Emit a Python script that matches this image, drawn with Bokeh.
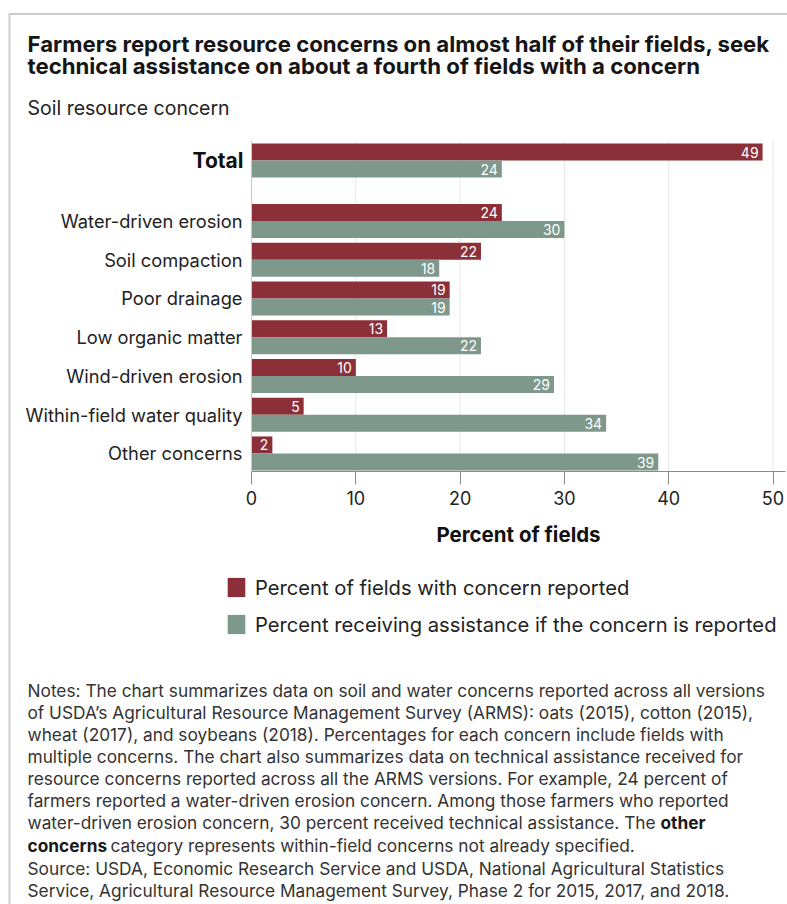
from bokeh.plotting import figure
from bokeh.models import Range1d, FixedTicker, Label, Legend, LegendItem, BoxAnnotation
from bokeh.core.properties import value
from bokeh.embed import file_html
from bokeh.resources import INLINE

# ---- data -------------------------------------------------------------
categories = [
    "Total",
    "Water-driven erosion",
    "Soil compaction",
    "Poor drainage",
    "Low organic matter",
    "Wind-driven erosion",
    "Within-field water quality",
    "Other concerns",
]
reported = [49, 24, 22, 19, 13, 10, 5, 2]      # percent of fields with concern reported
assisted = [24, 30, 18, 19, 22, 29, 34, 39]     # percent receiving assistance if reported
x_ticks = [0, 10, 20, 30, 40, 50]

title_lines = [
    "Farmers report resource concerns on almost half of their fields, seek",
    "technical assistance on about a fourth of fields with a concern",
]
subtitle = "Soil resource concern"
legend_labels = [
    "Percent of fields with concern reported",
    "Percent receiving assistance if the concern is reported",
]
notes_lines = [
    "Notes: The chart summarizes data on soil and water concerns reported across all versions",
    "of USDA\u2019s Agricultural Resource Management Survey (ARMS): oats (2015), cotton (2015),",
    "wheat (2017), and soybeans (2018). Percentages for each concern include fields with",
    "multiple concerns. The chart also summarizes data on technical assistance received for",
    "resource concerns reported across all the ARMS versions. For example, 24 percent of",
    "farmers reported a water-driven erosion concern. Among those farmers who reported",
    "water-driven erosion concern, 30 percent received technical assistance. The",
]
notes_bold_1 = "other"
notes_bold_2 = "concerns"
notes_tail = "category represents within-field concerns not already specified."
source_lines = [
    "Source: USDA, Economic Research Service and USDA, National Agricultural Statistics",
    "Service, Agricultural Resource Management Survey, Phase 2 for 2015, 2017, and 2018.",
]

# ---- layout constants ------------------------------------------------
W, H = 787, 904
PL, PR, PT, PB = 251, 785, 140, 471      # plotting area on the canvas (px)
FONT = "Inter"
RED = "#8b3038"
GREEN = "#7e988c"
TXT = "#222222"

n = len(categories)
rows = [float(n - 1 - i) for i in range(n)]
rows[0] += 0.56                           # extra gap below the Total row
bar_h = 0.44
y_red = [r + bar_h / 2 for r in rows]
y_green = [r - bar_h / 2 for r in rows]

px_x = 10.43     # px per percent
px_y = 38.75     # px per row
y_bot = -0.465   # data y at the x-axis line
y_top = y_bot + (PB - PT) / px_y
x_end = (PR - PL) / px_x

# the frame fills the whole canvas; axes are pinned inside it
p = figure(
    width=W, height=H,
    x_range=Range1d(-PL / px_x, (W - PL) / px_x),
    y_range=Range1d(y_bot - (H - PB) / px_y, y_bot + PB / px_y),
    min_border=0, min_border_left=0, min_border_right=0,
    min_border_top=0, min_border_bottom=0,
    output_backend="svg", toolbar_location=None,
    background_fill_color="white", border_fill_color="white",
)
p.outline_line_color = None
p.xgrid.grid_line_color = None
p.ygrid.grid_line_color = None

# vertical grid lines at the x ticks, limited to the plotting area
p.segment(x0=x_ticks, y0=[y_bot] * len(x_ticks), x1=x_ticks, y1=[y_top] * len(x_ticks),
          line_color="#e6e6e6", line_width=1)

r_rep = p.hbar(y=y_red, left=0, right=reported, height=bar_h,
               fill_color=RED, line_color=None)
r_ass = p.hbar(y=y_green, left=0, right=assisted, height=bar_h,
               fill_color=GREEN, line_color=None)

# value labels inside bar ends
p.text(x=reported, y=y_red, text=[str(v) for v in reported], x_offset=-4,
       text_align="right", text_baseline="middle", text_color="white",
       text_font=value(FONT), text_font_size="14px")
p.text(x=assisted, y=y_green, text=[str(v) for v in assisted], x_offset=-4,
       text_align="right", text_baseline="middle", text_color="white",
       text_font=value(FONT), text_font_size="14px")

# x axis
xa = p.xaxis[0]
xa.fixed_location = y_bot
xa.bounds = (0, x_end)
xa.ticker = FixedTicker(ticks=x_ticks)
xa.minor_tick_line_color = None
xa.major_tick_in = 0
xa.major_tick_out = 13
xa.major_tick_line_color = "#8a8a8a"
xa.axis_line_color = "#8a8a8a"
xa.major_label_standoff = 6
xa.major_label_text_font = FONT
xa.major_label_text_font_size = "18px"
xa.major_label_text_color = TXT
xa.axis_label = "Percent of fields"
xa.axis_label_standoff = 14
xa.axis_label_text_font = FONT
xa.axis_label_text_font_style = "bold"
xa.axis_label_text_font_size = "20.5px"
xa.axis_label_text_color = "#111111"

# y axis: category names
ya = p.yaxis[0]
ya.fixed_location = 0
ya.bounds = (y_bot, y_top)
ya.ticker = FixedTicker(ticks=rows)
ya.major_label_overrides = {r: ("" if i == 0 else categories[i]) for i, r in enumerate(rows)}
ya.minor_tick_line_color = None
ya.major_tick_line_color = None
ya.axis_line_color = "#c8c8c8"
ya.major_label_standoff = 3
ya.major_label_text_font = FONT
ya.major_label_text_font_size = "18.3px"
ya.major_label_text_color = TXT

# bold "Total" label next to the axis
p.add_layout(Label(x=PL - 8, y=rows[0], x_units="screen", y_units="data", text=categories[0],
                   text_align="right", text_baseline="middle", text_font=FONT,
                   text_font_style="bold", text_font_size="21px", text_color="#111111"))


def put(text, cx, cy, size, style="normal", color=TXT):
    p.add_layout(Label(x=cx, y=H - cy, x_units="screen", y_units="screen",
                       text=text, text_align="left", text_baseline="middle",
                       text_font=FONT, text_font_style=style,
                       text_font_size=size, text_color=color))


for i, line in enumerate(title_lines):
    put(line, 27, 43 + 22 * i, "22.2px", "bold", "#151515")
put(subtitle, 27, 107, "19.5px")

NOTE = "17.3px"
note_y = [690, 712, 734, 756, 778, 800, 822, 845]
for line, yy in zip(notes_lines, note_y):
    put(line, 27, yy, NOTE, color="#333333")
put(notes_bold_1, 660, 822, NOTE, "bold", "#1a1a1a")
put(notes_bold_2, 27, 845, NOTE, "bold", "#1a1a1a")
put(notes_tail, 110, 845, NOTE, color="#333333")
for line, yy in zip(source_lines, [868, 890]):
    put(line, 27, yy, NOTE, color="#333333")

legend = Legend(
    items=[LegendItem(label=legend_labels[0], renderers=[r_rep]),
           LegendItem(label=legend_labels[1], renderers=[r_ass])],
    location=(225, H - 636.5),
    glyph_width=22, glyph_height=24, label_height=24,
    label_standoff=8, spacing=12, padding=0, margin=0,
    label_text_font=FONT, label_text_font_size="20.2px", label_text_color=TXT,
    border_line_color=None, background_fill_alpha=0,
)
p.add_layout(legend)

# outer frame line (left and top edges)
p.add_layout(BoxAnnotation(left=9, right=W + 20, top=H - 13.5, bottom=-20,
                           left_units="screen", right_units="screen",
                           top_units="screen", bottom_units="screen",
                           fill_alpha=0, line_color="#555555", line_width=2))

open("out.html", "w").write(file_html(p, INLINE))
